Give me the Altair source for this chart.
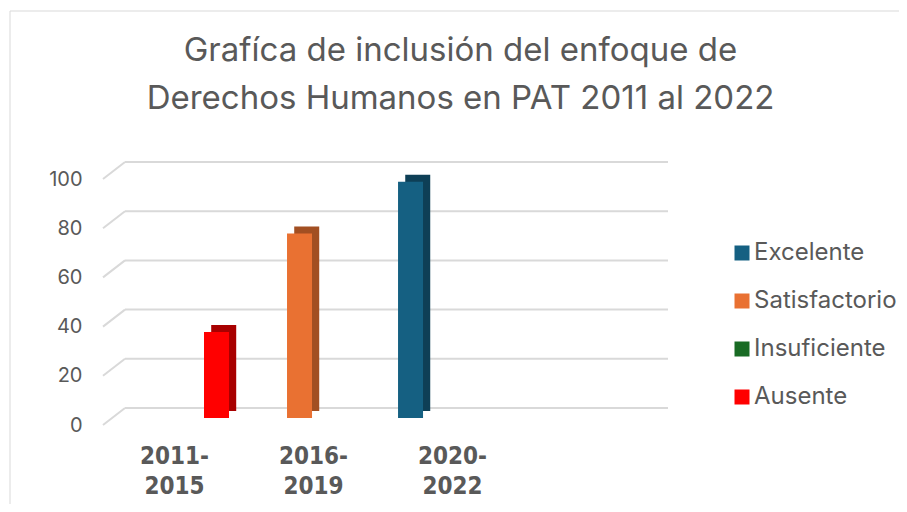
import altair as alt
import pandas as pd

categories = ["2011-2015", "2016-2019", "2020-2022"]
series = ["Excelente", "Satisfactorio", "Insuficiente", "Ausente"]
excelente = [0, 0, 96]
satisfactorio = [0, 75, 0]
insuficiente = [0, 0, 0]
ausente = [35, 0, 0]
colors = ["#156082", "#E97132", "#196B24", "#FF0000"]
dark_colors = ["#0E3F56", "#A24F22", "#114A19", "#A80000"]
title_lines = ["Grafíca de inclusión del enfoque de", "Derechos Humanos en PAT 2011 al 2022"]
y_ticks = [0, 20, 40, 60, 80, 100]

rows = []
for name, vals in zip(series, [excelente, satisfactorio, insuficiente, ausente]):
    for c, v in zip(categories, vals):
        rows.append({"periodo": c, "nivel": name, "valor": v})
df = pd.DataFrame(rows)
grid_df = pd.DataFrame({"valor": y_ticks})

TXT = "#595959"
FONT = "Inter"
GRID = "#d9d9d9"

x = alt.X(
    "periodo:N",
    sort=categories,
    scale=alt.Scale(paddingInner=0, paddingOuter=0.525, align=0),
    axis=alt.Axis(
        title=None, labelAngle=0,
        labelExpr="[slice(datum.label,0,5), slice(datum.label,5)]",
        labelFont="DejaVu Sans Condensed, DejaVu Sans", labelFontWeight="bold",
        labelFontSize=24, labelColor=TXT, labelPadding=26, labelLineHeight=30,
        domain=False, ticks=False, grid=False,
    ),
)
y = alt.Y(
    "valor:Q",
    scale=alt.Scale(domain=[0, 100]),
    axis=alt.Axis(
        title=None, values=y_ticks, labelFontSize=20, labelColor=TXT,
        labelFont=FONT, labelPadding=23, labelOffset=7,
        domain=False, ticks=False, grid=False,
    ),
)
xo_front = alt.XOffset(
    "nivel:N", sort=series,
    scale=alt.Scale(domain=series, paddingInner=0.107, paddingOuter=0.536),
)
xo_depth = alt.XOffset(
    "nivel:N", sort=series,
    scale=alt.Scale(domain=series, paddingInner=0.107, paddingOuter=0.536, align=0.74),
)

# back-wall gridlines and perspective side ticks
back_grid = alt.Chart(grid_df).mark_rule(color=GRID, strokeWidth=2, yOffset=-10).encode(
    y=y, x=alt.value(20), x2=alt.value(563),
)
side_ticks = alt.Chart(grid_df).mark_rule(color=GRID, strokeWidth=2, yOffset=7, y2Offset=-10).encode(
    y=y, y2=alt.Y2("valor:Q"), x=alt.value(-2), x2=alt.value(20),
)

depth = alt.Chart(df).mark_bar(yOffset=-7).encode(
    x=x, y=y, xOffset=xo_depth,
    color=alt.Color("nivel:N", scale=alt.Scale(domain=series, range=dark_colors), legend=None),
)
front = alt.Chart(df).mark_bar().encode(
    x=x, y=y, xOffset=xo_front,
    color=alt.Color(
        "nivel:N",
        scale=alt.Scale(domain=series, range=colors),
        legend=alt.Legend(
            title=None, orient="none", legendX=625, legendY=69,
            symbolType="square", symbolSize=225, symbolStrokeWidth=0,
            labelFontSize=24, labelColor=TXT, labelFont=FONT,
            rowPadding=24, labelOffset=0,
        ),
    ),
)

frame = alt.Chart(pd.DataFrame({"marco": [0]})).mark_rect(
    fill=None, stroke="#d9d9d9", strokeWidth=1
).encode(
    x=alt.value(-95), x2=alt.value(810), y=alt.value(-161), y2=alt.value(350)
)

chart = alt.layer(frame, back_grid, side_ticks, depth, front).resolve_scale(
    color="independent", xOffset="independent"
).properties(
    width=563, height=246,
    autosize="none",
    padding={"left": 97, "top": 164, "right": 231, "bottom": 86},
    title=alt.TitleParams(
        title_lines, fontSize=33, font=FONT, fontWeight="normal",
        color=TXT, lineHeight=48, anchor="middle", dx=74, offset=-105,
        frame="group",
    ),
).configure(background="white").configure_view(stroke=None)

chart.save("out.html", embed_options={"renderer": "svg", "actions": False})
